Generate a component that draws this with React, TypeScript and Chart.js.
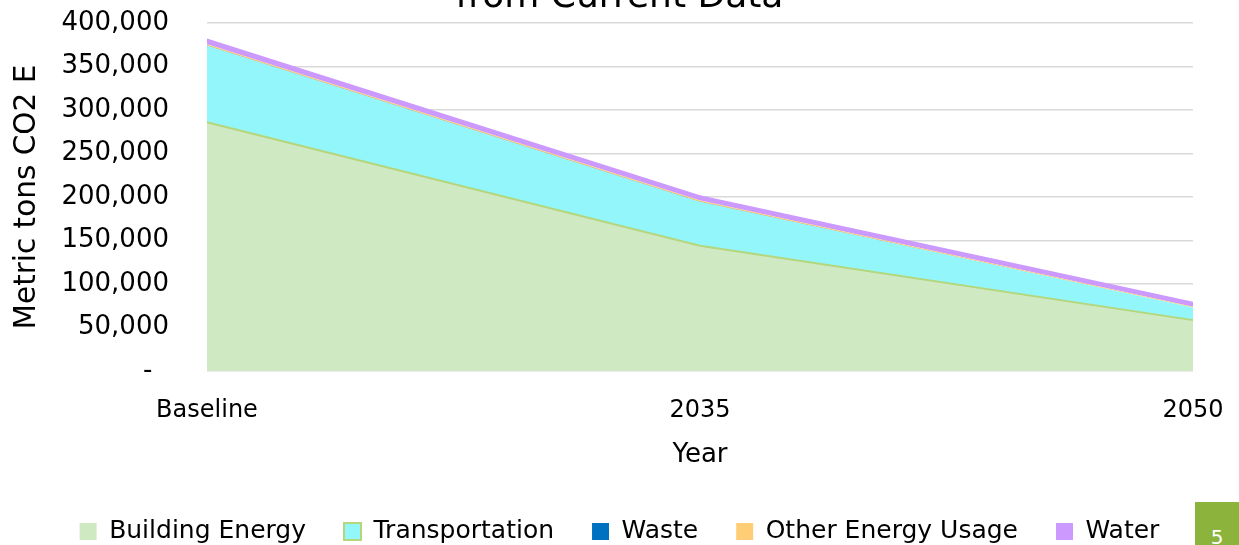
import React, { useEffect, useRef } from 'react';
import { Chart, registerables } from 'chart.js';

Chart.register(...registerables);

const categories = ['Baseline', '2035', '2050'];
const buildingEnergy = [286000, 144000, 58500];
const transportation = [88000, 50500, 14500];
const waste = [300, 200, 100];
const otherEnergyUsage = [1500, 1300, 900];
const water = [6500, 6000, 5500];
const yTicks = [0, 50000, 100000, 150000, 200000, 250000, 300000, 350000, 400000];

const FONT = '"DejaVu Sans", sans-serif';
const GREEN_LINE = '#b4d67c';

export default function App() {
  const ref = useRef<HTMLCanvasElement>(null);

  useEffect(() => {
    if (!ref.current) return;
    const chart = new Chart(ref.current, {
      type: 'line',
      data: {
        labels: categories,
        datasets: [
          {
            label: 'Building Energy',
            data: buildingEnergy,
            backgroundColor: '#cfeac3',
            borderColor: GREEN_LINE,
            borderWidth: 2,
            fill: 'origin',
            pointRadius: 0,
            tension: 0,
          },
          {
            label: 'Transportation',
            data: transportation,
            backgroundColor: '#93f6fa',
            borderColor: '#93f6fa',
            borderWidth: 0,
            fill: '-1',
            pointRadius: 0,
            tension: 0,
          },
          {
            label: 'Waste',
            data: waste,
            backgroundColor: '#0070c0',
            borderColor: '#0070c0',
            borderWidth: 0,
            fill: '-1',
            pointRadius: 0,
            tension: 0,
          },
          {
            label: 'Other Energy Usage',
            data: otherEnergyUsage,
            backgroundColor: '#ffcd75',
            borderColor: '#ffcd75',
            borderWidth: 0,
            fill: '-1',
            pointRadius: 0,
            tension: 0,
          },
          {
            label: 'Water',
            data: water,
            backgroundColor: '#cc99ff',
            borderColor: '#cc99ff',
            borderWidth: 0,
            fill: '-1',
            pointRadius: 0,
            tension: 0,
          },
        ],
      },
      options: {
        animation: false,
        responsive: true,
        maintainAspectRatio: false,
        layout: { padding: { left: 0, right: 0, top: 0, bottom: 0 } },
        plugins: {
          title: {
            display: true,
            text: 'from Current Data',
            color: '#000',
            font: { family: FONT, size: 36, weight: 'normal' },
            padding: { top: 10, bottom: 4 },
          },
          legend: {
            position: 'bottom',
            labels: {
              color: '#000',
              font: { family: FONT, size: 25 },
              boxWidth: 17,
              boxHeight: 17,
              padding: 38,
              generateLabels: (c: any) => {
                const items = Chart.defaults.plugins.legend.labels.generateLabels(c);
                items.forEach((it: any, i: number) => {
                  if (i === 1) {
                    it.strokeStyle = GREEN_LINE;
                    it.lineWidth = 2;
                  } else {
                    it.lineWidth = 0;
                    it.strokeStyle = it.fillStyle;
                  }
                });
                return items;
              },
            },
          },
          tooltip: { enabled: false },
        },
        scales: {
          x: {
            grid: { display: false },
            border: { display: false },
            afterFit: (s: any) => {
              s.paddingLeft = 0;
              s.paddingRight = 38;
              s.height = 110;
            },
            ticks: {
              color: '#000',
              font: { family: FONT, size: 24 },
              padding: 17,
              maxRotation: 0,
            },
            title: {
              display: true,
              text: 'Year',
              color: '#000',
              font: { family: FONT, size: 26 },
              padding: { top: 14, bottom: 10 },
            },
          },
          y: {
            stacked: true,
            min: 0,
            max: 400000,
            afterBuildTicks: (axis: any) => {
              axis.ticks = yTicks.map((v) => ({ value: v }));
            },
            afterFit: (s: any) => {
              s.width = 199;
            },
            grid: { color: '#d9d9d9', lineWidth: 1.5, drawTicks: false },
            border: { display: false },
            ticks: {
              color: '#000',
              font: { family: FONT, size: 26 },
              padding: 38,
              callback: (v: any) => (Number(v) === 0 ? '-  ' : Number(v).toLocaleString('en-US')),
            },
            title: {
              display: true,
              text: 'Metric tons CO2 E',
              color: '#000',
              font: { family: FONT, size: 29.5 },
              padding: { top: 2, bottom: 8 },
            },
          },
        },
      },
    });
    return () => chart.destroy();
  }, []);

  return (
    <>
      <div style={{ position: 'fixed', left: 8, top: -34, width: 1223, height: 588 }}>
        <canvas ref={ref} />
      </div>
      <div
        style={{
          position: 'fixed',
          left: 1195,
          top: 502,
          width: 44,
          height: 43,
          background: '#8cb43c',
          color: '#fff',
          fontFamily: FONT,
          fontSize: 20,
          textAlign: 'center',
          lineHeight: '70px',
          overflow: 'hidden',
        }}
      >
        5
      </div>
    </>
  );
}
